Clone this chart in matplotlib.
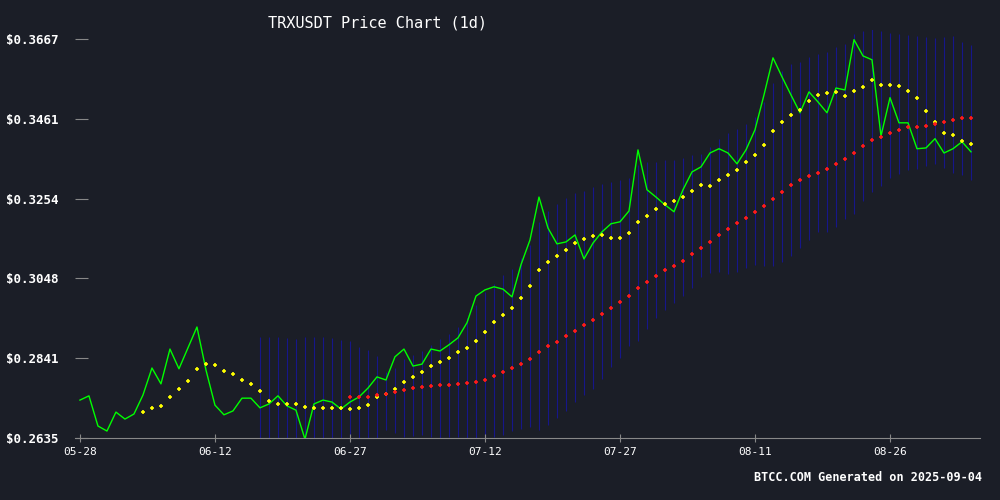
import matplotlib
matplotlib.use("Agg")
import matplotlib.pyplot as plt
import pandas as pd
import numpy as np

dates = pd.date_range("2025-05-28", periods=100, freq="D")
price = [0.2733,0.2744,0.2666,0.2653,0.2702,0.2684,0.2697,0.2746,0.2816,0.2775,
         0.2865,0.2814,0.2868,0.2922,0.2811,0.2720,0.2695,0.2705,0.2738,0.2738,
         0.2713,0.2723,0.2744,0.2718,0.2707,0.2632,0.2723,0.2733,0.2728,0.2710,
         0.2728,0.2741,0.2764,0.2793,0.2785,0.2845,0.2865,0.2821,0.2826,0.2865,
         0.2860,0.2876,0.2894,0.2933,0.3002,0.3018,0.3026,0.3020,0.3000,0.3083,
         0.3147,0.3258,0.3178,0.3137,0.3142,0.3160,0.3098,0.3139,0.3168,0.3189,
         0.3194,0.3222,0.3380,0.3277,0.3258,0.3238,0.3220,0.3277,0.3323,0.3336,
         0.3372,0.3383,0.3372,0.3344,0.3380,0.3432,0.3522,0.3618,0.3569,0.3522,
         0.3476,0.3530,0.3504,0.3476,0.3540,0.3535,0.3665,0.3623,0.3613,0.3416,
         0.3515,0.3450,0.3450,0.3383,0.3385,0.3409,0.3372,0.3383,0.3401,0.3375]
yticks = [0.2635, 0.2841, 0.3048, 0.3254, 0.3461, 0.3667]
xtick_labels = ["05-28", "06-12", "06-27", "07-12", "07-27", "08-11", "08-26"]

s = pd.Series(price, index=dates)
ma_short = s.rolling(8).mean()
ma_long = s.rolling(31).mean()
bb_mid = s.rolling(21).mean()
bb_std = s.rolling(21).std()
upper = bb_mid + 2 * bb_std
lower = bb_mid - 2 * bb_std

bg = "#1b1e27"
fig = plt.figure(figsize=(10, 5), dpi=100, facecolor=bg)
ax = fig.add_axes([0.075, 0.124, 0.905, 0.816], facecolor=bg)

ax.vlines(dates, lower, upper, color="#16168a", linewidth=0.8, zorder=1)
ax.plot(dates, price, color="#00ff00", linewidth=1, zorder=3)
ax.plot(dates, ma_short, linestyle="none", marker="+", color="#ffff00", markersize=3.5, markeredgewidth=1.2, zorder=4)
ax.plot(dates, ma_long, linestyle="none", marker="+", color="#ff1a1a", markersize=3.5, markeredgewidth=1.2, zorder=4)

ax.set_ylim(0.2635, 0.3690)
ax.set_xlim(dates[0] - pd.Timedelta(days=0.55), dates[0] + pd.Timedelta(days=100.0))
ax.set_yticks(yticks)
ax.set_yticklabels([f"${v:.4f}" for v in yticks], fontfamily="DejaVu Sans Mono", fontweight="bold", fontsize=9, color="white")
xt = [pd.Timestamp("2025-" + l) for l in xtick_labels]
ax.set_xticks(xt)
ax.set_xticklabels(xtick_labels, fontfamily="DejaVu Sans Mono", fontsize=8, color="white")
ax.tick_params(axis="y", length=9, color="#888888", pad=12, direction="in")
ax.tick_params(axis="x", length=6, color="#888888", direction="inout")
for sp in ["top", "right", "left"]:
    ax.spines[sp].set_visible(False)
ax.spines["bottom"].set_color("#888888")

fig.text(0.377, 0.955, "TRXUSDT Price Chart (1d)", fontfamily="DejaVu Sans Mono", fontsize=11, color="white", ha="center", va="center")
fig.text(0.982, 0.045, "BTCC.COM Generated on 2025-09-04", fontfamily="DejaVu Sans Mono", fontweight="bold", fontsize=8.5, color="white", ha="right", va="center")

fig.savefig("out.png", facecolor=bg)
